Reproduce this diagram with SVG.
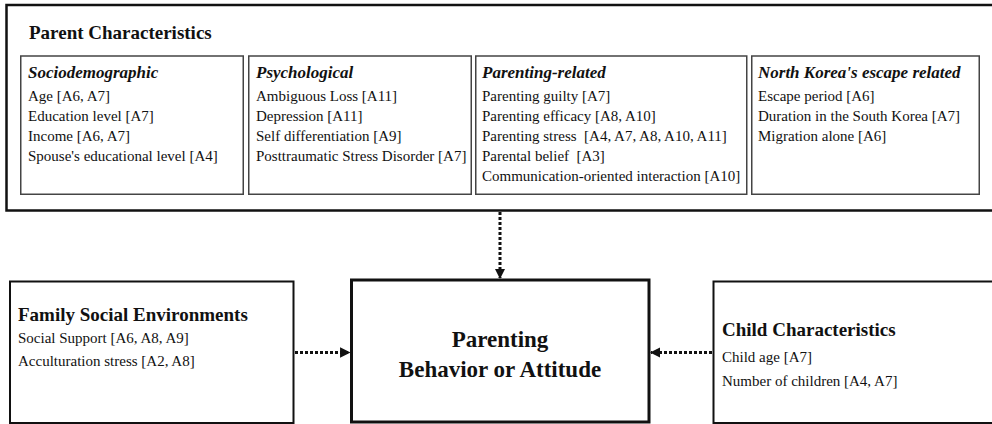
<svg xmlns="http://www.w3.org/2000/svg" width="992" height="424" viewBox="0 0 992 424">
<style>
text{font-family:"Liberation Serif","Times New Roman",serif;fill:#111}
.h{font-size:19px;font-weight:bold}
.sh{font-size:17px;font-weight:bold;font-style:italic}
.b{font-size:15px}
.c{font-size:23px;font-weight:bold}
.inner{fill:#fff;stroke:#444;stroke-width:1.5}
.box{fill:#fff;stroke:#111;stroke-width:2}
.conn{stroke:#111;stroke-width:3;stroke-dasharray:3 2;fill:none}
</style>
<defs>
<marker id="ah" viewBox="0 0 10 10" refX="9" refY="5" markerWidth="3.5" markerHeight="3.5" orient="auto" markerUnits="strokeWidth">
<path d="M0,0 L10,5 L0,10 Z" fill="#111"/>
</marker>
</defs>
<rect width="992" height="424" fill="#fff"/>
<g id="parent">
<rect x="6.5" y="5" width="1000" height="205.5" fill="#fff" stroke="#111" stroke-width="2.5"/>
<text class="h" x="29" y="39">Parent Characteristics</text>
<g id="socio">
<rect class="inner" x="20.75" y="56" width="222.5" height="138.25"/>
<text class="sh" x="28" y="78">Sociodemographic</text>
<text class="b" x="28" y="101">Age [A6, A7]</text>
<text class="b" x="28" y="121">Education level [A7]</text>
<text class="b" x="28" y="141">Income [A6, A7]</text>
<text class="b" x="28" y="161">Spouse's educational level [A4]</text>
</g>
<g id="psych">
<rect class="inner" x="248.75" y="56" width="222.5" height="138.25"/>
<text class="sh" x="256" y="78">Psychological</text>
<text class="b" x="256" y="101">Ambiguous Loss [A11]</text>
<text class="b" x="256" y="121">Depression [A11]</text>
<text class="b" x="256" y="141">Self differentiation [A9]</text>
<text class="b" x="256" y="161">Posttraumatic Stress Disorder [A7]</text>
</g>
<g id="parenting">
<rect class="inner" x="475.75" y="56" width="271" height="138.25"/>
<text class="sh" x="482" y="78">Parenting-related</text>
<text class="b" x="482" y="101">Parenting guilty [A7]</text>
<text class="b" x="482" y="121">Parenting efficacy [A8, A10]</text>
<text class="b" x="482" y="141" xml:space="preserve">Parenting stress  [A4, A7, A8, A10, A11]</text>
<text class="b" x="482" y="161" xml:space="preserve">Parental belief  [A3]</text>
<text class="b" x="482" y="181">Communication-oriented interaction [A10]</text>
</g>
<g id="northkorea">
<rect class="inner" x="751.75" y="56" width="227.5" height="138.25"/>
<text class="sh" x="758" y="78">North Korea's escape related</text>
<text class="b" x="758" y="101">Escape period [A6]</text>
<text class="b" x="758" y="121">Duration in the South Korea [A7]</text>
<text class="b" x="758" y="141">Migration alone [A6]</text>
</g>
</g>
<g id="family">
<rect class="box" x="10" y="281.5" width="283.5" height="141.5"/>
<text class="h" x="18" y="321">Family Social Environments</text>
<text class="b" x="18" y="343">Social Support [A6, A8, A9]</text>
<text class="b" x="18" y="366">Acculturation stress [A2, A8]</text>
</g>
<g id="center">
<rect x="351.5" y="280" width="297.5" height="142" fill="#fff" stroke="#111" stroke-width="3"/>
<text class="c" x="500" y="347" text-anchor="middle">Parenting</text>
<text class="c" x="500" y="377" text-anchor="middle">Behavior or Attitude</text>
</g>
<g id="child">
<rect class="box" x="713.5" y="281.5" width="290" height="141.5"/>
<text class="h" x="722" y="336">Child Characteristics</text>
<text class="b" x="722" y="362">Child age [A7]</text>
<text class="b" x="722" y="386">Number of children [A4, A7]</text>
</g>
<g id="connectors">
<line class="conn" x1="500" y1="212" x2="500" y2="278" marker-end="url(#ah)"/>
<line class="conn" x1="295" y1="352.5" x2="349.5" y2="352.5" marker-end="url(#ah)"/>
<line class="conn" x1="712" y1="352.5" x2="651" y2="352.5" marker-end="url(#ah)"/>
</g>
</svg>
